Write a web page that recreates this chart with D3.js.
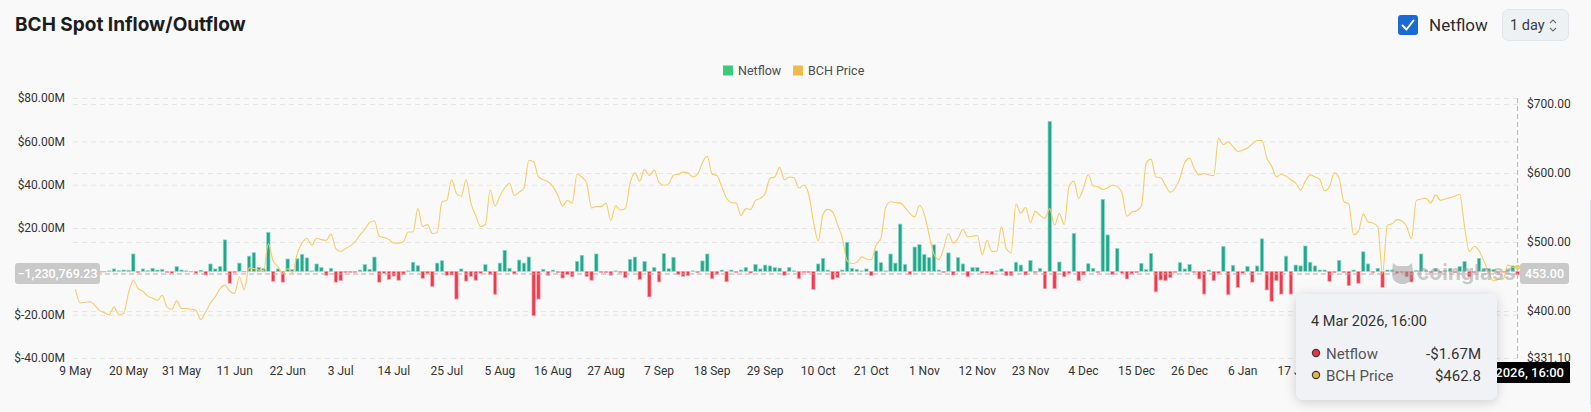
<!DOCTYPE html>
<html>
<head>
<meta charset="utf-8">
<script src="https://cdn.jsdelivr.net/npm/d3@7"></script>
<style>
    body { margin: 0; background: #f9f9f9; }
    svg { display: block; font-family: Roboto, "Noto Sans", sans-serif; }
</style>
</head>
<body>
<svg id="chart" width="1591" height="412"></svg>
<script>
// x axis tick labels, one every 11 days starting 9 May 2025
const tickLabels = ["9 May", "20 May", "31 May", "11 Jun", "22 Jun", "3 Jul", "14 Jul", "25 Jul",
    "5 Aug", "16 Aug", "27 Aug", "7 Sep", "18 Sep", "29 Sep", "10 Oct", "21 Oct", "1 Nov",
    "12 Nov", "23 Nov", "4 Dec", "15 Dec", "26 Dec", "6 Jan", "17 Jan", "28 Jan", "8 Feb",
    "19 Feb", "2 Mar"];

// daily netflow, millions USD
const netflow = [
    0.3, -0.4, 0.6, -0.3, 0.4, -0.4, -0.3, 0.2, 1.1, 0.3,
    0.6, 0.5, 8.0, -0.6, 1.1, 0.3, 1.4, 0.6, 0.9, -0.5,
    -0.9, 2.2, 0.6, 0.2, -0.2, -0.9, 0.5, -1.7, 3.4, 1.1,
    2.2, 14.5, -5.5, -0.6, 3.8, -0.3, 7.0, 8.6, 1.8, 1.2,
    18.0, -4.6, 1.1, -5.0, 5.7, 0.9, 5.8, 7.8, 6.2, 0.2,
    3.4, 1.8, -1.8, 1.4, -5.0, -4.3, -0.6, -0.5, -0.5, 0.6,
    3.1, 0.9, 6.6, -5.0, -0.9, -3.7, -2.2, -4.1, -1.5, 0.2,
    4.2, 2.6, -3.2, -0.9, -7.0, 3.8, 4.9, -1.8, -1.7, -12.8,
    1.1, -4.5, -2.3, -4.1, -0.9, 3.1, -1.4, -10.6, 3.8, 9.7,
    1.4, -1.2, 5.2, 3.8, 6.6, -20.5, -12.8, 0.9, -1.9, 0.6,
    -0.6, -3.1, -1.5, -2.5, 4.6, 7.4, -2.4, -4.1, 8.0, -0.6,
    -0.6, -1.8, 0.2, -0.6, -2.9, 5.5, 6.6, -3.8, 4.5, -11.8,
    1.8, -4.9, 8.2, 1.2, 6.5, -1.4, -2.3, -2.0, 0.2, -0.6,
    4.8, 8.0, -3.4, -1.4, 0.6, -4.8, 0.6, -0.6, 0.6, 1.8,
    -0.8, 3.2, 1.1, 2.9, 2.5, 1.7, 1.5, -1.8, 1.8, 0.2,
    -3.4, -0.6, -0.6, -8.3, 3.4, 6.0, 0.6, -3.7, -2.9, 0.6,
    13.4, 1.4, 0.9, 0.2, 1.1, -2.0, 9.4, 4.0, 0.2, 8.0,
    3.8, 21.8, 3.2, -1.4, 11.2, 12.3, 7.7, 6.3, 12.2, 0.6,
    -0.6, 8.5, -1.7, 6.3, 3.4, -2.5, 1.7, 1.7, -0.8, -0.8,
    -1.4, 0.2, 1.1, -2.0, -2.0, 4.2, 2.9, -1.7, 5.0, -0.6,
    1.4, -8.0, 69.2, -8.0, 4.3, -2.5, -0.9, 17.5, -4.3, -1.7,
    3.5, 1.4, -0.6, 33.2, 16.8, -1.5, 10.6, -0.9, -3.5, -1.2,
    -0.6, 3.7, 0.8, 8.3, -9.5, -4.0, -4.3, -2.8, -0.6, 4.0,
    1.1, 3.2, -0.6, -3.5, -10.5, 0.6, -4.3, -0.9, 11.5, -10.8,
    2.8, -7.4, -0.9, 2.3, -5.0, 2.5, 15.0, -8.6, -13.8, -4.3,
    -10.5, 7.0, -10.5, 2.9, 2.5, 11.7, 4.2, 2.5, 0.6, 0.6,
    -4.6, -0.6, 5.0, -0.6, -6.6, 0.6, -5.5, 9.0, 3.4, -0.6,
    1.4, -7.4, 0.6, 0.6, -0.9, -0.6, -2.5, -4.9, 0.3, 8.0,
    0.3, -0.6, 1.2, -0.6, 0.3, 1.2, -0.6, 2.2, 4.5, -2.5,
    -0.6, 6.0, 1.2, 1.2, 0.8, -0.6, -0.4, 0.6, 2.5, -1.67
];

// daily BCH price, USD
const price = [
    431, 411, 412, 413, 408, 400, 397, 394, 405, 394,
    396, 425, 444, 432, 428, 421, 418, 415, 422, 405,
    402, 414, 403, 403, 402, 400, 387, 398, 411, 420,
    432, 437, 428, 425, 449, 430, 462, 461, 459, 458,
    497, 472, 464, 454, 461, 455, 483, 498, 505, 495,
    505, 503, 502, 511, 490, 486, 490, 494, 500, 510,
    518, 528, 530, 508, 506, 503, 498, 498, 500, 514,
    514, 548, 522, 525, 512, 513, 558, 560, 590, 570,
    566, 590, 556, 538, 522, 525, 575, 552, 566, 578,
    585, 567, 572, 578, 618, 616, 594, 590, 587, 580,
    568, 552, 560, 556, 598, 594, 585, 549, 551, 551,
    556, 531, 552, 546, 548, 585, 600, 588, 605, 596,
    604, 586, 582, 584, 597, 598, 601, 600, 594, 598,
    615, 624, 598, 596, 580, 563, 557, 556, 538, 548,
    547, 560, 563, 570, 592, 594, 608, 590, 594, 593,
    578, 582, 570, 530, 501, 540, 547, 543, 525, 505,
    472, 468, 470, 478, 475, 474, 495, 505, 550, 558,
    557, 556, 550, 541, 536, 553, 540, 510, 482, 474,
    490, 512, 498, 505, 518, 507, 508, 509, 481, 502,
    486, 486, 522, 490, 484, 555, 541, 550, 528, 544,
    538, 534, 548, 524, 541, 525, 580, 588, 563, 578,
    598, 581, 580, 576, 578, 582, 580, 570, 537, 543,
    545, 552, 614, 620, 594, 593, 582, 572, 578, 592,
    615, 621, 606, 597, 599, 597, 596, 650, 641, 645,
    638, 631, 633, 636, 642, 647, 647, 622, 610, 594,
    598, 595, 590, 585, 575, 588, 597, 594, 590, 574,
    580, 600, 592, 558, 555, 510, 515, 540, 529, 527,
    522, 454, 524, 526, 532, 530, 522, 504, 560, 562,
    563, 556, 568, 560, 562, 564, 566, 569, 522, 486,
    493, 487, 472, 455, 443, 445, 446, 466, 463, 462.8
];

const leftTicks = [-40, -20, 0, 20, 40, 60, 80];
const rightTicks = [331.1, 400, 500, 600, 700];
const startDate = new Date(2025, 4, 9);
const dates = netflow.map((d, i) => d3.timeDay.offset(startDate, i));

const svg = d3.select('#chart');
const plot = {left: 73, right: 1520, top: 98, bottom: 358};

const x = d3.scaleBand()
    .domain(d3.range(netflow.length))
    .range([plot.left, plot.right])
    .paddingInner(0.3)
    .paddingOuter(0.15);
const cx = i => x(i) + x.bandwidth() / 2;

const yLeft = d3.scaleLinear().domain([-40, 80]).range([plot.bottom, plot.top]);
const yRight = d3.scaleLinear().domain([331.1, 708.7]).range([plot.bottom, plot.top]);

svg.append("rect").attr("width", 1591).attr("height", 412).attr("fill", "#f9f9f9");

// header
svg.append("text")
    .attr("x", 15).attr("y", 31)
    .style("font-family", "Inter, sans-serif")
    .style("font-size", "19px").style("font-weight", 700)
    .attr("fill", "#1c1d21")
    .text("BCH Spot Inflow/Outflow");

svg.append("rect")
    .attr("x", 1398).attr("y", 15).attr("width", 20).attr("height", 20).attr("rx", 3)
    .attr("fill", "#1a69d4");
svg.append("path")
    .attr("d", "M1402.5,25.5 L1406.5,29.5 L1413.5,20.5")
    .attr("fill", "none").attr("stroke", "#fff").attr("stroke-width", 2)
    .attr("stroke-linecap", "round").attr("stroke-linejoin", "round");
svg.append("text")
    .attr("x", 1429).attr("y", 31)
    .style("font-size", "17px").attr("fill", "#2b2d31")
    .text("Netflow");

svg.append("rect")
    .attr("x", 1502.5).attr("y", 9.5).attr("width", 66).attr("height", 31).attr("rx", 6)
    .attr("fill", "#eef1f4").attr("stroke", "#e1e4e8");
svg.append("text")
    .attr("x", 1510).attr("y", 30)
    .style("font-size", "14.5px").attr("fill", "#3a3c40")
    .text("1 day");
svg.append("path")
    .attr("d", "M1550,23 L1553,20 L1556,23 M1550,28 L1553,31 L1556,28")
    .attr("fill", "none").attr("stroke", "#6a6d72").attr("stroke-width", 1.1);

// legend
const legend = [
    {name: "Netflow", color: "#3ccb7a", x: 723},
    {name: "BCH Price", color: "#efbc4c", x: 793}
];
legend.forEach(l => {
    svg.append("rect").attr("x", l.x).attr("y", 65.5).attr("width", 10).attr("height", 10)
        .attr("fill", l.color);
    svg.append("text").attr("x", l.x + 15).attr("y", 74.5)
        .style("font-size", "12.5px").attr("fill", "#4a4c50").text(l.name);
});

// grid
svg.append("g").selectAll("line")
    .data(leftTicks).enter().append("line")
    .attr("x1", plot.left).attr("x2", plot.right)
    .attr("y1", d => yLeft(d) + 0.5).attr("y2", d => yLeft(d) + 0.5)
    .attr("stroke", "#e6e6e6").attr("stroke-dasharray", "5,4");
svg.append("g").selectAll("line")
    .data(rightTicks.slice(1)).enter().append("line")
    .attr("x1", plot.left).attr("x2", plot.right)
    .attr("y1", d => Math.round(yRight(d)) + 0.5).attr("y2", d => Math.round(yRight(d)) + 0.5)
    .attr("stroke", "#e6e6e6").attr("stroke-dasharray", "5,4");

// axes
const axisLeft = svg.append("g")
    .attr("transform", `translate(65,0)`)
    .call(d3.axisLeft(yLeft).tickValues(leftTicks).tickSize(0).tickPadding(0)
        .tickFormat(d => d === 0 ? "" : `$${d.toFixed(2)}M`));
const axisRight = svg.append("g")
    .attr("transform", `translate(1527,0)`)
    .call(d3.axisRight(yRight).tickValues(rightTicks).tickSize(0).tickPadding(0)
        .tickFormat(d => `$${d.toFixed(2)}`));
const axisBottom = svg.append("g")
    .attr("transform", `translate(0,${plot.bottom})`)
    .call(d3.axisBottom(x).tickValues(d3.range(0, netflow.length, 11)).tickSize(0).tickPadding(8)
        .tickFormat(i => tickLabels[i / 11]));
[axisLeft, axisRight, axisBottom].forEach(a => {
    a.select(".domain").remove();
    a.selectAll("text").style("font-size", "12px").attr("fill", "#333")
        .style("font-family", "Roboto, sans-serif");
});

// netflow bars
svg.append("g").selectAll("rect")
    .data(netflow).enter().append("rect")
    .attr("x", (d, i) => x(i))
    .attr("width", x.bandwidth())
    .attr("y", d => yLeft(Math.max(0, d)))
    .attr("height", d => Math.abs(yLeft(d) - yLeft(0)))
    .attr("fill", d => d >= 0 ? "#1fa98c" : "#f2394c")
    .attr("stroke", d => d >= 0 ? "#8fd6c6" : "#f7a9b3")
    .attr("stroke-width", 0.7);

// price line
const line = d3.line()
    .x((d, i) => cx(i))
    .y(d => yRight(d))
    .curve(d3.curveMonotoneX);
svg.append("path")
    .datum(price)
    .attr("d", line)
    .attr("fill", "none")
    .attr("stroke", "#f8cc66")
    .attr("stroke-width", 1.1);

// watermark
const wm = svg.append("g").attr("opacity", 0.5).attr("fill", "#9a9a9a");
wm.append("path")
    .attr("d", "M1393,263 L1397,266 L1408,266 L1412,263 L1413,271 Q1414,282 1405,284 L1400,284 Q1391,282 1392,271 Z");
wm.append("text")
    .attr("x", 1417).attr("y", 280)
    .style("font-size", "21px").style("font-weight", 700)
    .style("font-family", "Inter, sans-serif")
    .text("coinglass");

// cross pointer at the last day
const last = netflow.length - 1;
const pointerY = yLeft(-1.23076923);
svg.append("line")
    .attr("x1", plot.left).attr("x2", plot.right)
    .attr("y1", pointerY).attr("y2", pointerY)
    .attr("stroke", "#b0b0b0").attr("stroke-dasharray", "5,3");
svg.append("line")
    .attr("x1", cx(last)).attr("x2", cx(last))
    .attr("y1", plot.top).attr("y2", plot.bottom)
    .attr("stroke", "#b8b8b8").attr("stroke-dasharray", "5,3");
svg.append("circle")
    .attr("cx", cx(last)).attr("cy", yRight(price[last])).attr("r", 2.5)
    .attr("fill", "#f7c95e");

svg.append("rect").attr("x", 15).attr("y", 263).attr("width", 85).attr("height", 21).attr("rx", 3)
    .attr("fill", "#c9c9c9");
svg.append("text").attr("x", 57.5).attr("y", 278).attr("text-anchor", "middle")
    .style("font-size", "12.5px").style("font-weight", 500).attr("fill", "#fff")
    .text(d3.format(",.2f")(-1230769.23));
svg.append("rect").attr("x", 1520).attr("y", 263).attr("width", 49).attr("height", 21).attr("rx", 3)
    .attr("fill", "#c9c9c9");
svg.append("text").attr("x", 1544.5).attr("y", 278).attr("text-anchor", "middle")
    .style("font-size", "12.5px").style("font-weight", 500).attr("fill", "#fff")
    .text(d3.format(".2f")(453));

svg.append("rect").attr("x", 1446).attr("y", 362).attr("width", 124).attr("height", 21)
    .attr("fill", "#000");
svg.append("text").attr("x", 1564).attr("y", 377).attr("text-anchor", "end")
    .style("font-size", "13px").style("font-weight", 500).attr("fill", "#fff")
    .text(d3.timeFormat("%-d %b %Y, 16:00")(dates[last]));

svg.append("line").attr("x1", 1590.5).attr("x2", 1590.5).attr("y1", 200).attr("y2", 405)
    .attr("stroke", "#dde2ea");

// tooltip
const defs = svg.append("defs");
const filter = defs.append("filter").attr("id", "shadow")
    .attr("x", "-20%").attr("y", "-20%").attr("width", "140%").attr("height", "150%");
filter.append("feDropShadow").attr("dx", 0).attr("dy", 2).attr("stdDeviation", 6)
    .attr("flood-color", "#000").attr("flood-opacity", 0.18);

const tip = svg.append("g");
tip.append("rect")
    .attr("x", 1296).attr("y", 294).attr("width", 201).attr("height", 106).attr("rx", 8)
    .attr("fill", "#f0f2f5").attr("filter", "url(#shadow)");
tip.append("text").attr("x", 1311).attr("y", 326)
    .style("font-size", "14.5px").attr("fill", "#333")
    .text(d3.timeFormat("%-d %b %Y, 16:00")(dates[last]));
const tipRows = [
    {name: "Netflow", color: "#ee3340", value: "-$" + Math.abs(netflow[last]).toFixed(2) + "M", y: 353},
    {name: "BCH Price", color: "#e8b63c", value: "$" + price[last], y: 375}
];
tipRows.forEach(r => {
    tip.append("circle").attr("cx", 1316).attr("cy", r.y).attr("r", 3.6)
        .attr("fill", r.color).attr("stroke", "#3a3a3a").attr("stroke-width", 1.2);
    tip.append("text").attr("x", 1326).attr("y", r.y + 5.5)
        .style("font-size", "15px").attr("fill", "#555").text(r.name);
    tip.append("text").attr("x", 1481).attr("y", r.y + 5.5).attr("text-anchor", "end")
        .style("font-size", "15px").attr("fill", "#333").text(r.value);
});
</script>
</body>
</html>
